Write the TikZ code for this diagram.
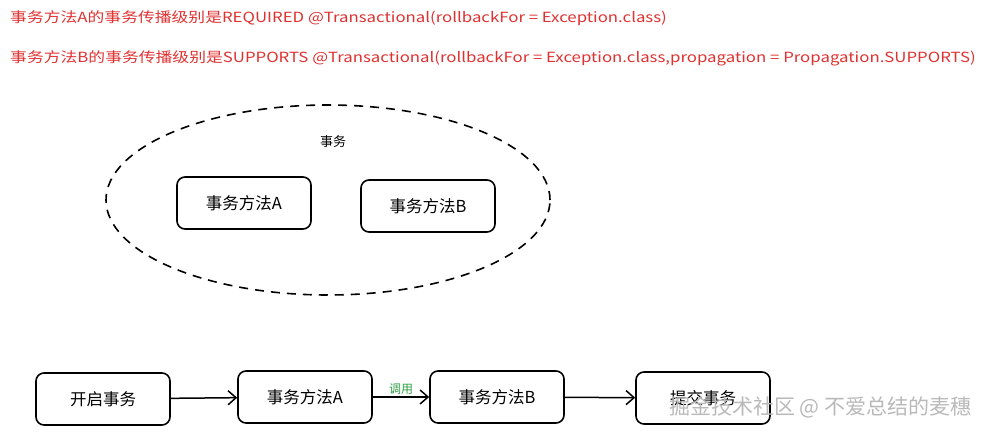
\documentclass[tikz,border=0pt]{standalone}
\usepackage{fontspec}
\setmainfont{Noto Sans CJK SC}
\usetikzlibrary{arrows.meta,shapes.geometric}
\definecolor{redtxt}{HTML}{E03131}
\definecolor{greentxt}{HTML}{2F9E44}
\tikzset{
  box/.style={draw,line width=1.6pt,rounded corners=8pt,minimum width=134pt,minimum height=52pt,font=\fontsize{16.5}{19}\selectfont},
  conn/.style={line width=1.5pt,-{Straight Barb[length=8pt,width=14pt]}},
  redline/.style={anchor=west,text=redtxt,font=\fontsize{14}{16}\selectfont,xscale=1.2,transform shape}
}
\begin{document}
\begin{tikzpicture}[x=1pt,y=-1pt]
\useasboundingbox (0,0) rectangle (987,436);
\node[redline] (t1) at (6,18) {事务方法A的事务传播级别是REQUIRED @Transactional(rollbackFor = Exception.class)};
\node[redline] (t2) at (6,58) {事务方法B的事务传播级别是SUPPORTS @Transactional(rollbackFor = Exception.class,propagation = Propagation.SUPPORTS)};
\node[draw,dash pattern=on 9pt off 7pt,line width=1.6pt,ellipse,minimum width=444pt,minimum height=190pt] (ell) at (328,200) {};
\node[font=\fontsize{13}{15}\selectfont] (lab) at (333,142) {事务};
\node[box] (ta) at (244,203) {事务方法A};
\node[box] (tb) at (428,206) {事务方法B};
\node[box] (s) at (103,399) {开启事务};
\node[box] (a) at (305,397) {事务方法A};
\node[box] (b) at (497,397) {事务方法B};
\node[box] (c) at (703,398) {提交事务};
\draw[conn] (s) -- (a);
\draw[conn] (a) -- node[above=-2pt,text=greentxt,font=\fontsize{12}{14}\selectfont] (call) {调用} (b);
\draw[conn] (b) -- (c);
\node[text=gray!55,font=\fontsize{21}{23}\selectfont,anchor=east] (wm) at (975,407) {掘金技术社区 @ 不爱总结的麦穗};
\end{tikzpicture}
\end{document}
